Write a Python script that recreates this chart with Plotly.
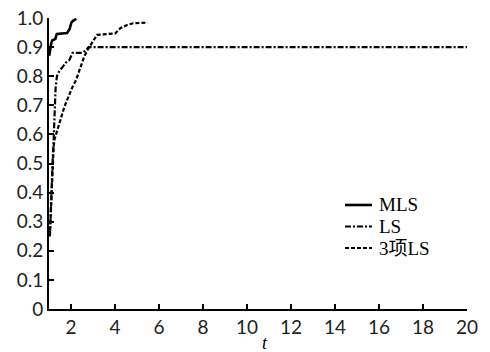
import plotly.graph_objects as go

mls_t = [1.01, 1.06, 1.10, 1.14, 1.29, 1.33, 1.36, 1.82, 1.88, 1.94, 1.98, 2.02, 2.09, 2.16, 2.24]
mls_y = [0.87, 0.904, 0.912, 0.922, 0.928, 0.94, 0.945, 0.948, 0.955, 0.962, 0.975, 0.985, 0.99, 0.994, 0.997]

ls_t = [1.04, 1.06, 1.08, 1.10, 1.12, 1.15, 1.17, 1.20, 1.22, 1.24, 1.30, 1.36, 1.47, 1.60, 1.77, 1.92, 2.00, 2.07, 2.45, 2.65, 2.80, 20.0]
ls_y = [0.25, 0.30, 0.36, 0.40, 0.45, 0.48, 0.52, 0.56, 0.60, 0.70, 0.76, 0.80, 0.818, 0.83, 0.847, 0.855, 0.87, 0.88, 0.88, 0.887, 0.90, 0.90]

ls3_t = [1.04, 1.06, 1.08, 1.10, 1.13, 1.17, 1.20, 1.24, 1.35, 1.47, 1.60, 1.70, 1.92, 2.05, 2.23, 2.38, 2.60, 2.75, 2.95, 3.18, 4.01, 4.24, 4.55, 4.83, 5.48]
ls3_y = [0.25, 0.29, 0.34, 0.40, 0.46, 0.50, 0.54, 0.58, 0.61, 0.64, 0.67, 0.695, 0.74, 0.76, 0.787, 0.82, 0.867, 0.89, 0.913, 0.942, 0.947, 0.965, 0.976, 0.982, 0.984]

names = ["MLS", "LS", "3项LS"]

x_ticks = [2, 4, 6, 8, 10, 12, 14, 16, 18, 20]
y_ticks = [0, 0.1, 0.2, 0.3, 0.4, 0.5, 0.6, 0.7, 0.8, 0.9, 1.0]
y_ticktext = ["0", "0.1", "0.2", "0.3", "0.4", "0.5", "0.6", "0.7", "0.8", "0.9", "1.0"]

styles = [
    dict(color="black", width=2.6),
    dict(color="black", width=2.2, dash="6px,2px,2px,2px"),
    dict(color="black", width=2.2, dash="4px,2px"),
]

fig = go.Figure()
for t, y, nm, st in zip([mls_t, ls_t, ls3_t], [mls_y, ls_y, ls3_y], names, styles):
    fig.add_trace(go.Scatter(x=t, y=y, mode="lines", name=nm, line=st, showlegend=False))

# manual legend (paper coordinates)
L, R, T, B = 49, 467, 18, 309
def px(xp):
    return (xp - L) / (R - L)
def py(yp):
    return (B - yp) / (B - T)

leg_y = [205, 226.5, 248]
for nm, st, yy in zip(names, styles, leg_y):
    fig.add_shape(type="line", xref="paper", yref="paper",
                  x0=px(345), x1=px(372), y0=py(yy), y1=py(yy), line=st)
    fig.add_annotation(xref="paper", yref="paper", x=px(377), y=py(yy),
                       xanchor="left", yanchor="middle", showarrow=False, text=nm,
                       font=dict(family="Liberation Serif, Noto Sans CJK SC, serif", size=19, color="black"))

fig.add_annotation(xref="paper", yref="paper", x=px(265), y=py(343),
                   xanchor="center", yanchor="middle", showarrow=False, text="<i>t</i>",
                   font=dict(family="Liberation Serif, serif", size=18, color="black"))

tickfont = dict(family="Lato, DejaVu Sans, sans-serif", size=19, color="#222")

fig.update_layout(
    width=490, height=352,
    margin=dict(l=L, r=490 - R, t=T, b=352 - B, autoexpand=False),
    paper_bgcolor="white", plot_bgcolor="white",
    showlegend=False,
    xaxis=dict(range=[1, 20], tickvals=x_ticks, ticks="inside", ticklen=5, tickwidth=1.5,
               tickcolor="black", showline=True, linecolor="black", linewidth=2,
               showgrid=False, zeroline=False, tickfont=tickfont, automargin=False),
    yaxis=dict(range=[0, 1.0], tickvals=y_ticks, ticktext=y_ticktext, ticks="inside",
               ticklen=5, tickwidth=1.5, tickcolor="black", showline=True, linecolor="black",
               linewidth=2, showgrid=False, zeroline=False, tickfont=tickfont, automargin=False),
)

fig.write_html("out.html")
